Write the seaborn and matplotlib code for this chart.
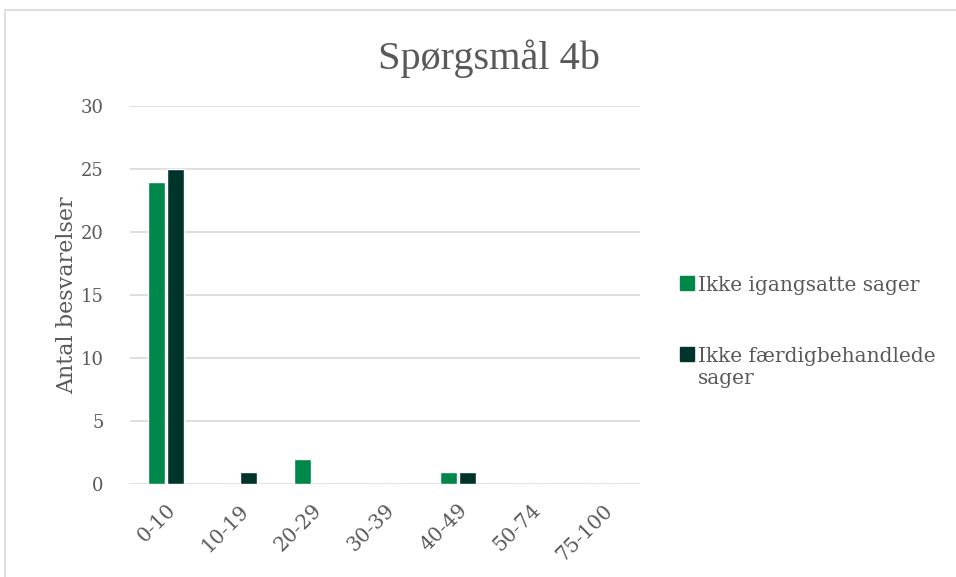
import matplotlib.pyplot as plt
import seaborn as sns
import pandas as pd
from matplotlib.lines import Line2D

categories = ['0-10', '10-19', '20-29', '30-39', '40-49', '50-74', '75-100']
ikke_igangsatte = [24, 0, 2, 0, 1, 0, 0]
ikke_faerdig = [25, 1, 0, 0, 1, 0, 0]
series_names = ['Ikke igangsatte sager', 'Ikke færdigbehandlede\nsager']
colors = ['#00874A', '#00342A']

df = pd.DataFrame({
    'kategori': categories * 2,
    'antal': ikke_igangsatte + ikke_faerdig,
    'serie': [series_names[0]] * len(categories) + [series_names[1]] * len(categories),
})

sns.set_style('white')
plt.rcParams['font.family'] = ['DejaVu Serif']
text_col = '#595959'

fig = plt.figure(figsize=(9.56, 5.77), dpi=100)
ax = fig.add_axes([0.136, 0.161, 0.533, 0.655])

sns.barplot(data=df, x='kategori', y='antal', hue='serie', palette=colors,
            saturation=1, width=0.52, gap=0.1, ax=ax, legend=False, zorder=3)

ax.set_ylim(0, 30)
ax.set_yticks(range(0, 31, 5))
ax.grid(axis='y', color='#D9D9D9', linewidth=1.2, zorder=0)
ax.set_axisbelow(True)
for s in ax.spines.values():
    s.set_visible(False)
ax.tick_params(axis='y', length=0, labelsize=13, labelcolor=text_col, pad=19)
ax.tick_params(axis='x', length=0, labelsize=14.5, labelcolor=text_col, pad=12)
plt.setp(ax.get_xticklabels(), rotation=45, ha='right', rotation_mode='anchor')
ax.set_xlabel('')
ax.set_ylabel('Antal besvarelser', fontsize=16, color=text_col, labelpad=2)

fig.text(0.511, 0.898, 'Spørgsmål 4b', ha='center', va='center',
         fontsize=29, color=text_col, family='Liberation Serif')

handles = [Line2D([], [], marker='s', linestyle='none', markersize=9.5,
                  markerfacecolor=c, markeredgecolor=c) for c in colors]
leg = fig.legend(handles, series_names, loc='upper left', bbox_to_anchor=(0.689, 0.553),
                 frameon=False, fontsize=14.5, labelcolor=text_col, handletextpad=0.05,
                 labelspacing=2.6, handlelength=1.0)
# put the marker next to the first line of a wrapped label
for item in leg._legend_handle_box.get_children()[0].get_children():
    item.align = 'top'

fig.add_artist(Line2D([0.005, 1.0], [0.983, 0.983], color='#D9D9D9', linewidth=1.2,
                      transform=fig.transFigure))
fig.add_artist(Line2D([0.005, 0.005], [0.0, 0.983], color='#D9D9D9', linewidth=1.2,
                      transform=fig.transFigure))

fig.savefig('out.png', dpi=100)
